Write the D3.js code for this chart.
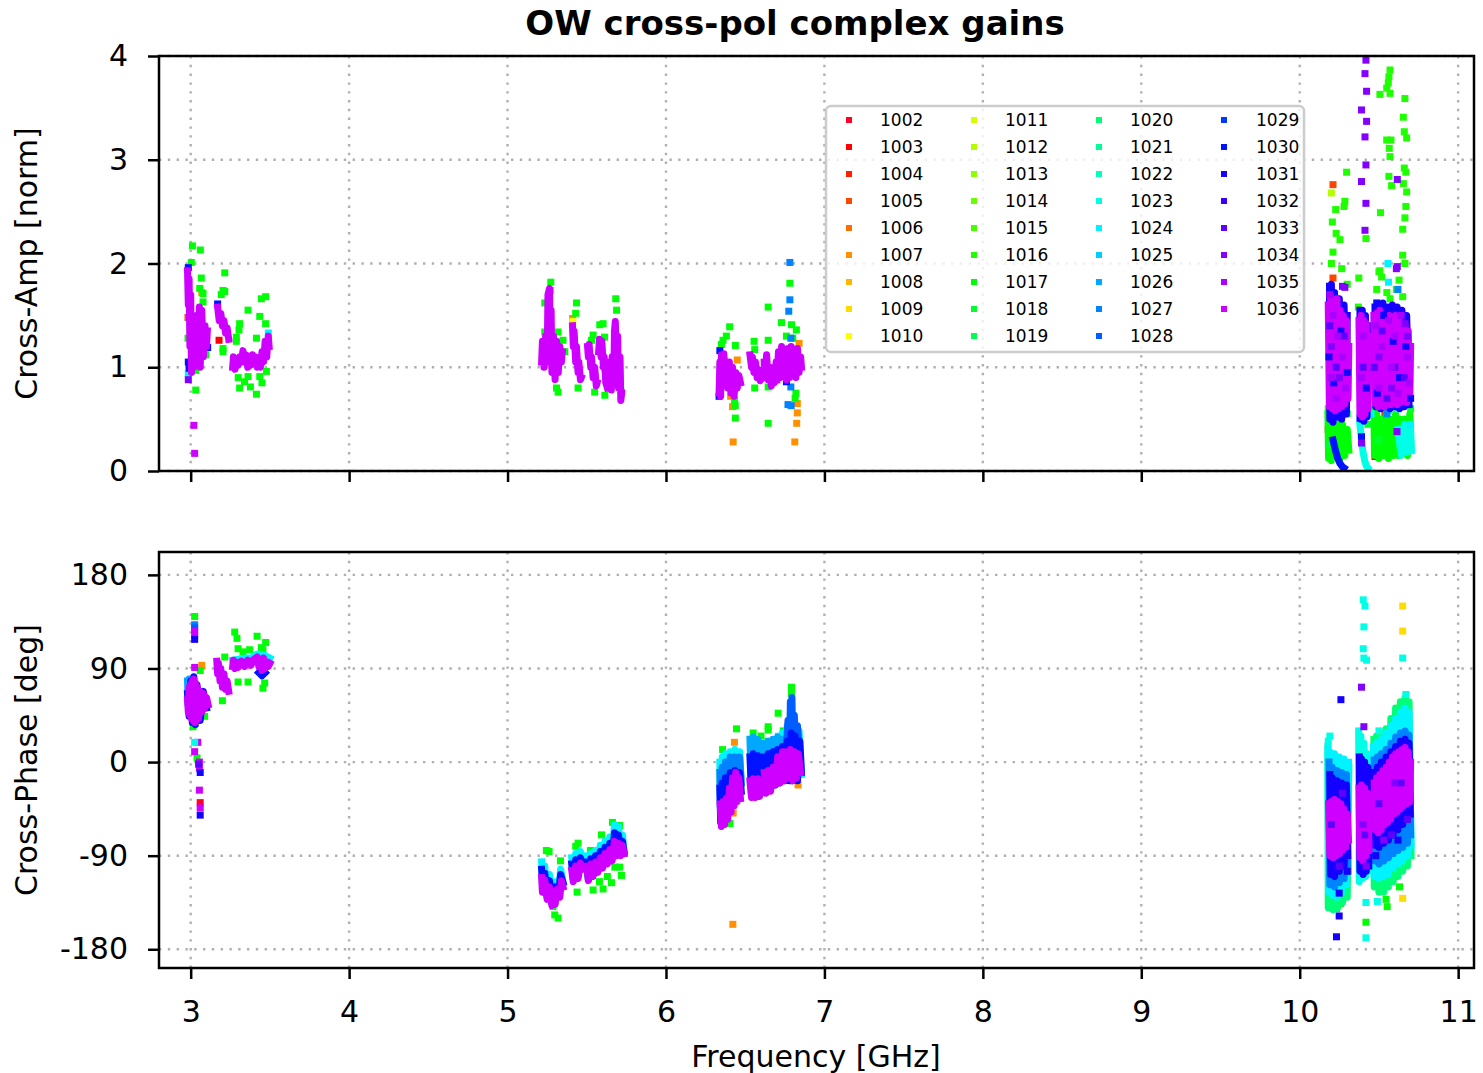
<!DOCTYPE html>
<html><head><meta charset="utf-8">
<script src="https://cdn.jsdelivr.net/npm/d3@7"></script>
<style>body{margin:0;background:#fff} svg{display:block} text{font-family:"DejaVu Sans",sans-serif}</style>
</head><body><svg id="c" width="1483" height="1073"></svg>
<script>
// ---------- categories / ticks ----------
const antennas = ["1002","1003","1004","1005","1006","1007","1008","1009","1010","1011","1012","1013","1014","1015","1016","1017","1018","1019","1020","1021","1022","1023","1024","1025","1026","1027","1028","1029","1030","1031","1032","1033","1034","1035","1036"];
const freqTicks = [3,4,5,6,7,8,9,10,11];
const freqTickLabels = ["3","4","5","6","7","8","9","10","11"];
const ampTicks = [0,1,2,3,4];
const ampTickLabels = ["0","1","2","3","4"];
const phaseTicks = [-180,-90,0,90,180];
const phaseTickLabels = ["-180","-90","0","90","180"];

// ---------- Cross-Amp: dense channel runs [freq GHz, amp] ----------
const ampRuns1036 = [
 [[2.98,1.93],[2.985,1.6],[2.99,1.85],[2.995,1.2],[3.0,1.7],[3.005,0.95],[3.01,1.5],[3.02,1.0],[3.025,1.3]],
 [[3.035,1.1],[3.04,1.5],[3.045,1.05],[3.055,1.58],[3.06,1.0],[3.07,1.55],[3.08,1.1],[3.09,1.4],[3.1,1.2],[3.105,1.35]],
 [[3.17,1.58],[3.18,1.45],[3.19,1.52],[3.2,1.4],[3.21,1.45],[3.22,1.33],[3.23,1.38],[3.24,1.27]],
 [[3.265,1.0],[3.27,1.1],[3.28,0.98],[3.29,1.08],[3.3,1.02],[3.31,1.1],[3.32,1.05],[3.33,1.16],[3.34,1.05],[3.35,1.12],[3.36,1.0],[3.37,1.08],[3.38,1.02],[3.39,1.12],[3.4,1.05],[3.41,1.1],[3.42,1.0],[3.43,1.06],[3.44,1.0],[3.45,1.15],[3.46,1.05],[3.47,1.25],[3.48,1.1],[3.49,1.3],[3.495,1.2]],
 [[5.215,1.05],[5.22,1.25],[5.23,1.0],[5.24,1.3],[5.25,1.05],[5.255,1.7],[5.265,1.76],[5.27,1.2],[5.275,1.55],[5.28,0.95],[5.29,1.3],[5.3,0.88],[5.31,1.25],[5.32,0.95],[5.33,1.2],[5.34,1.05],[5.345,1.15]],
 [[5.41,1.4],[5.415,1.2],[5.42,1.35],[5.43,1.05],[5.435,1.2],[5.445,0.95],[5.45,1.05],[5.46,0.88],[5.465,0.9]],
 [[5.505,1.2],[5.51,1.1],[5.515,1.22],[5.525,1.0],[5.53,1.1],[5.54,0.9],[5.55,1.0],[5.56,0.82],[5.565,0.85]],
 [[5.575,1.15],[5.58,1.27],[5.59,1.1],[5.595,1.25],[5.605,1.0],[5.61,1.1],[5.62,0.85],[5.63,0.8]],
 [[5.635,1.0],[5.64,0.8],[5.645,1.05],[5.655,0.78],[5.66,1.1],[5.67,0.85],[5.675,1.35],[5.68,1.44],[5.69,1.0],[5.695,1.3],[5.7,0.8],[5.71,1.1],[5.715,0.68],[5.72,0.75]],
 [[6.335,0.75],[6.34,1.05],[6.345,0.72],[6.35,1.12],[6.36,0.85],[6.365,1.13],[6.375,0.9],[6.38,1.05],[6.39,0.8],[6.4,1.05],[6.41,0.75],[6.42,1.0],[6.43,0.72],[6.44,0.95],[6.45,0.8],[6.46,0.92],[6.47,0.85]],
 [[6.53,1.12],[6.54,1.0],[6.545,1.1],[6.555,0.95],[6.565,1.05],[6.575,0.9],[6.585,0.98],[6.595,0.87],[6.605,0.9]],
 [[6.62,1.05],[6.625,0.9],[6.635,1.12],[6.645,0.88],[6.655,1.0],[6.665,0.82],[6.675,0.95],[6.685,0.85],[6.695,1.05],[6.705,0.9]],
 [[6.7,0.88],[6.71,1.15],[6.72,0.9],[6.73,1.2],[6.74,0.92],[6.75,1.15],[6.76,0.88],[6.77,1.18],[6.78,0.9],[6.79,1.2],[6.8,0.92],[6.81,1.15],[6.82,0.9],[6.83,1.18],[6.84,0.95],[6.85,1.1],[6.855,1.0]],
 [[10.18,1.6],[10.187,0.62],[10.195,1.68],[10.205,0.6],[10.215,1.62],[10.225,0.58],[10.235,1.66],[10.245,0.6],[10.255,1.55],[10.265,0.62],[10.275,1.5],[10.285,0.65],[10.295,1.45],[10.305,0.7],[10.31,1.2]],
 [[10.374,1.45],[10.38,0.55],[10.388,1.5],[10.396,0.52],[10.404,1.45],[10.412,0.55],[10.42,1.42],[10.43,0.6],[10.438,1.3]],
 [[10.468,1.5],[10.475,0.65],[10.485,1.52],[10.495,0.62],[10.505,1.55],[10.515,0.65],[10.525,1.5],[10.535,0.62],[10.545,1.48],[10.555,0.66],[10.565,1.5],[10.575,0.64],[10.585,1.45],[10.595,0.66],[10.605,1.5],[10.615,0.64],[10.625,1.45],[10.635,0.66],[10.645,1.42],[10.655,0.68],[10.665,1.4],[10.675,0.66],[10.685,1.35],[10.695,0.7],[10.7,1.2]]
];
const ampRuns1031 = [
 [[10.188,1.78],[10.19,0.5],[10.2,1.8],[10.21,0.47],[10.22,1.72],[10.235,0.52],[10.25,1.66],[10.265,0.5],[10.28,1.6],[10.295,0.55],[10.3,1.5]],
 [[10.38,1.55],[10.385,0.5],[10.395,1.55],[10.405,0.48],[10.415,1.5],[10.425,0.52],[10.43,1.4]],
 [[10.475,1.58],[10.48,0.62],[10.495,1.6],[10.51,0.6],[10.525,1.62],[10.54,0.62],[10.555,1.58],[10.57,0.6],[10.585,1.6],[10.6,0.62],[10.615,1.58],[10.63,0.6],[10.645,1.55],[10.66,0.62],[10.675,1.5],[10.69,0.64]]
];
const ampRuns1030 = [
 [[10.21,0.3],[10.225,0.2],[10.24,0.12],[10.255,0.07],[10.27,0.04],[10.28,0.03]]
];
const ampRuns1023 = [
 [[10.38,0.45],[10.39,0.3],[10.4,0.18],[10.41,0.1],[10.42,0.05],[10.43,0.03]],
 [[10.62,0.4],[10.64,0.15],[10.66,0.45],[10.68,0.18],[10.7,0.4],[10.705,0.2]]
];
const ampRuns1017 = [
 [[10.178,0.55],[10.182,0.12],[10.19,0.5],[10.2,0.1],[10.21,0.45],[10.225,0.15],[10.24,0.5],[10.255,0.12],[10.27,0.45],[10.285,0.15],[10.3,0.4],[10.31,0.2]],
 [[10.468,0.6],[10.472,0.15],[10.485,0.55],[10.5,0.12],[10.515,0.5],[10.53,0.15],[10.545,0.55],[10.56,0.12],[10.575,0.5],[10.59,0.15],[10.605,0.55],[10.62,0.15],[10.635,0.5],[10.65,0.18],[10.665,0.5],[10.68,0.15],[10.695,0.55],[10.702,0.2]]
];

// ---------- Cross-Amp: scattered channels [freq GHz, amp] ----------
const ampPts1017 = [[3.011,2.17],[3.061,2.13],[3.004,2.01],[3.067,1.86],[3.057,1.76],[3.078,1.71],[3.078,1.63],[3.215,1.91],[3.204,1.74],[3.215,1.73],[3.193,1.70],[3.362,1.55],[3.446,1.66],[3.473,1.68],[3.436,1.49],[3.473,1.42],[3.309,1.42],[3.305,1.36],[3.288,1.29],[3.288,1.25],[3.204,1.18],[3.204,1.15],[3.415,1.28],[3.309,0.80],[3.377,0.81],[3.415,0.74],[3.362,0.91],[3.436,0.91],[3.478,0.96],[3.032,0.78],[3.032,0.97],[3.095,1.12],[3.088,1.39],[2.983,1.28],[3.057,1.04],[3.3,0.9],[3.34,0.86],[3.45,0.85],
 [5.273,1.82],[5.27,1.74],[5.235,1.62],[5.435,1.62],[5.43,1.52],[5.235,1.34],[5.319,1.34],[5.683,1.66],[5.688,1.55],[5.603,1.42],[5.582,1.41],[5.54,1.31],[5.53,1.26],[5.612,1.29],[5.309,0.80],[5.319,0.76],[5.445,0.8],[5.55,0.76],[5.614,0.73],[5.635,0.81],[5.719,0.76],[5.24,1.18],[5.361,1.15],[5.35,1.26],
 [6.782,1.81],[6.645,1.58],[6.402,1.39],[6.381,1.30],[6.36,1.26],[6.35,1.22],[6.729,1.43],[6.792,1.41],[6.823,1.36],[6.645,1.26],[6.556,1.25],[6.56,1.17],[6.438,1.21],[6.433,0.68],[6.437,0.63],[6.438,0.51],[6.645,0.46],[6.56,0.80],[6.645,0.81],[6.82,0.75],[6.815,0.70],[6.76,1.3],[6.8,1.28]];
const ampPts1016 = [[10.57,3.865],[10.563,3.80],[10.559,3.74],[10.549,3.69],[10.57,3.64],[10.506,3.63],[10.664,3.59],[10.654,3.41],[10.66,3.27],[10.675,3.21],[10.549,3.19],[10.576,3.19],[10.565,3.11],[10.57,3.03],[10.66,2.92],[10.67,2.88],[10.563,2.84],[10.58,2.75],[10.654,2.77],[10.675,2.69],[10.296,2.88],[10.285,2.60],[10.28,2.55],[10.227,2.52],[10.206,2.40],[10.23,2.29],[10.254,2.23],[10.21,2.11],[10.2,2.0],[10.265,1.95],[10.418,2.24],[10.51,2.49],[10.67,2.55],[10.664,2.44],[10.65,2.33],[10.65,2.08],[10.664,2.0],[10.506,1.93],[10.517,1.87],[10.627,1.84],[10.486,1.75],[10.57,1.66],[10.65,1.68],[10.37,1.58],[10.373,1.86],[10.5,1.92],[10.3,1.8],[10.61,1.75],[10.55,1.72]];
const ampPts1018 = [[10.18,0.6],[10.2,0.58],[10.3,0.55],[10.39,0.5],[10.43,0.45],[10.48,0.62],[10.55,0.6],[10.6,0.65],[10.7,0.6],[10.19,0.25],[10.5,0.3],[10.66,0.28]];
const ampPts1036 = [[3.02,0.44],[3.025,0.17]];
const ampPts1035 = [[10.19,1.7],[10.21,1.5],[10.24,1.3],[10.27,1.1],[10.2,0.9],[10.29,0.8],[10.23,0.7],[10.4,1.3],[10.39,0.9],[10.48,1.4],[10.52,1.2],[10.56,1.45],[10.6,1.3],[10.64,1.5],[10.68,1.1],[10.5,0.8],[10.62,0.75],[10.58,1.0],[10.69,0.85]];
const ampPts1034 = [[2.985,0.88],[10.418,3.96],[10.412,3.83],[10.422,3.66],[10.39,3.48],[10.422,3.37],[10.412,3.22],[10.418,2.95],[10.39,2.79],[10.418,2.58],[10.412,2.32],[10.616,2.81],[10.616,1.97],[10.285,1.77],[10.27,1.78],[10.61,1.95],[10.39,0.27],[10.614,0.38],[10.665,1.42],[10.2,1.2],[10.25,0.9],[10.5,1.1],[10.58,0.8],[10.68,1.3]];
const ampPts1033 = [[10.19,1.4],[10.23,1.0],[10.28,1.3],[10.52,1.35],[10.6,1.0],[10.66,0.9],[10.4,1.0],[10.55,0.7],[10.47,1.0]];
const ampPts1031 = [[10.185,1.1],[10.215,0.85],[10.26,1.35],[10.3,0.95],[10.42,0.8],[10.49,0.75],[10.53,1.5],[10.59,1.25],[10.63,0.9],[10.67,1.2],[10.7,0.7]];
const ampPts1030 = [[2.985,1.96],[2.985,1.05],[2.99,0.99],[3.107,1.19],[3.17,1.61],[10.19,1.65],[10.22,1.26],[10.25,0.88],[10.24,0.62],[10.486,1.62],[10.55,1.54],[10.632,1.07],[10.652,0.85],[10.506,0.68],[10.39,0.33],[10.38,0.51],[10.41,1.1],[6.34,1.16],[6.76,0.86],[6.335,0.72]];
const ampPts1027 = [[6.782,2.01],[6.782,1.65],[6.775,1.54],[6.788,1.28],[6.788,0.81],[6.77,0.64],[6.79,0.63],[10.62,1.75],[10.55,0.55]];
const ampPts1024 = [[2.985,0.94],[3.49,1.33],[10.557,2.0],[10.56,1.82],[10.39,0.6],[10.45,0.55],[10.62,0.6],[10.7,0.45],[10.56,0.58]];
const ampPts1007 = [[6.424,0.28],[6.813,0.28],[6.825,0.46],[6.829,0.56],[6.829,0.65],[6.45,1.07],[6.408,0.72],[6.42,0.62],[6.84,1.23],[5.41,1.47],[3.07,1.72]];
const ampPts1010 = [[5.412,1.44]];
const ampPts1005 = [[10.21,2.76],[10.21,1.86],[2.983,1.48]];
const ampPts1003 = [[3.179,1.26],[10.475,0.14],[10.538,0.56],[10.18,0.4]];
const ampPts1012 = [[10.2,2.68]];

// ---------- Cross-Phase: dense channel runs [freq GHz, deg] ----------
const phRuns1036 = [
 [[2.98,60],[2.985,48],[2.99,72],[2.995,45],[3.0,75],[3.005,42],[3.01,78],[3.015,40],[3.02,80],[3.025,38],[3.03,76],[3.035,40],[3.04,72],[3.05,42],[3.06,68],[3.07,48],[3.08,66],[3.09,52],[3.1,62],[3.11,55]],
 [[3.165,97],[3.17,85],[3.175,95],[3.185,78],[3.19,90],[3.2,72],[3.21,85],[3.22,70],[3.23,78],[3.24,68]],
 [[3.265,92],[3.27,98],[3.28,90],[3.29,96],[3.3,91],[3.32,97],[3.34,92],[3.36,98],[3.38,93],[3.4,99],[3.42,101],[3.43,92],[3.44,97],[3.45,88],[3.46,100],[3.47,90],[3.48,96],[3.49,92],[3.5,95]],
 [[5.215,-111],[5.22,-125],[5.235,-113],[5.25,-132],[5.265,-120],[5.28,-138],[5.29,-125],[5.3,-137],[5.315,-122],[5.33,-130],[5.34,-114],[5.35,-120]],
 [[5.405,-104],[5.415,-115],[5.43,-100],[5.445,-112],[5.46,-97],[5.475,-103]],
 [[5.5,-100],[5.51,-114],[5.525,-98],[5.54,-110],[5.555,-96],[5.57,-106],[5.585,-92],[5.6,-102],[5.615,-88],[5.63,-98],[5.645,-84],[5.66,-95],[5.675,-76],[5.69,-90],[5.7,-78],[5.715,-90],[5.725,-80],[5.735,-88]],
 [[6.342,-40],[6.35,-62],[6.36,-38],[6.37,-60],[6.38,-35],[6.39,-55],[6.4,-25],[6.41,-48],[6.42,-15],[6.43,-42],[6.44,-10],[6.45,-38],[6.46,-15],[6.47,-35]],
 [[6.53,-18],[6.54,-34],[6.55,-16],[6.565,-34],[6.58,-16],[6.59,-33],[6.6,-20]],
 [[6.62,-10],[6.63,-30],[6.645,-8],[6.66,-28],[6.675,-5],[6.69,-22],[6.705,5],[6.72,-18],[6.735,10],[6.75,-15]],
 [[6.71,-5],[6.72,-20],[6.73,5],[6.745,-18],[6.755,10],[6.77,-15],[6.785,12],[6.8,-18],[6.81,10],[6.825,-15],[6.835,8],[6.85,-10]],
 [[10.182,-40],[10.19,-90],[10.2,-38],[10.21,-92],[10.22,-36],[10.23,-90],[10.24,-38],[10.25,-88],[10.26,-40],[10.27,-85],[10.28,-45],[10.29,-82],[10.3,-50],[10.308,-75]],
 [[10.374,-25],[10.38,-92],[10.39,-22],[10.4,-95],[10.41,-25],[10.42,-90],[10.43,-30],[10.438,-85]],
 [[10.47,-20],[10.475,-65],[10.485,-15],[10.495,-68],[10.505,-12],[10.515,-65],[10.525,-8],[10.535,-60],[10.545,-5],[10.555,-58],[10.565,0],[10.575,-55],[10.585,5],[10.595,-50],[10.605,8],[10.615,-48],[10.625,10],[10.635,-45],[10.645,12],[10.655,-42],[10.665,14],[10.675,-40],[10.685,10],[10.695,-38],[10.7,0]]
];
const phRuns1031 = [
 [[10.19,-12],[10.195,-108],[10.205,-15],[10.22,-110],[10.235,-18],[10.25,-105],[10.265,-20],[10.28,-100],[10.295,-22],[10.303,-90]],
 [[10.376,5],[10.38,-105],[10.39,3],[10.4,-108],[10.41,0],[10.42,-105],[10.43,-5],[10.436,-100]],
 [[10.472,-10],[10.475,-80],[10.49,-5],[10.5,-82],[10.515,0],[10.53,-78],[10.545,5],[10.56,-75],[10.575,10],[10.59,-70],[10.605,15],[10.62,-65],[10.635,20],[10.65,-60],[10.665,22],[10.68,-55],[10.69,18],[10.698,-50]]
];
const phRuns1030 = [
 [[2.98,66],[2.99,44],[3.0,78],[3.01,38],[3.02,82],[3.03,36],[3.04,74],[3.06,40],[3.08,68],[3.1,52]],
 [[3.43,86],[3.45,83],[3.47,86]],
 [[5.215,-103],[5.225,-125],[5.235,-107],[5.25,-130],[5.265,-114],[5.28,-136],[5.3,-120],[5.32,-128],[5.335,-108],[5.35,-116]],
 [[5.405,-98],[5.415,-113],[5.43,-94],[5.445,-110],[5.46,-92],[5.475,-100]],
 [[5.5,-96],[5.51,-113],[5.525,-93],[5.54,-109],[5.555,-90],[5.57,-104],[5.585,-86],[5.6,-100],[5.615,-82],[5.63,-96],[5.645,-78],[5.66,-92],[5.675,-68],[5.69,-88],[5.7,-70],[5.715,-88],[5.725,-76],[5.735,-86]],
 [[6.34,-25],[6.345,-58],[6.355,-20],[6.365,-52],[6.375,-15],[6.39,-45],[6.405,-10],[6.42,-38],[6.435,-8],[6.45,-32],[6.465,-10],[6.475,-28]],
 [[6.53,5],[6.54,-32],[6.55,8],[6.565,-32],[6.58,6],[6.59,-32],[6.6,0]],
 [[6.62,5],[6.63,-29],[6.645,8],[6.66,-26],[6.675,10],[6.69,-22],[6.705,12],[6.72,-17],[6.735,12],[6.75,-12]],
 [[6.71,10],[6.72,-20],[6.735,15],[6.75,-18],[6.765,20],[6.78,-18],[6.79,28],[6.8,-18],[6.815,25],[6.83,-18],[6.845,20],[6.855,-10]]
];
const phRuns1028 = [
 [[6.76,15],[6.77,40],[6.78,10],[6.785,58],[6.79,20],[6.795,62],[6.8,15],[6.81,45],[6.82,10],[6.83,35],[6.845,5]]
];
const phRuns1027 = [
 [[6.34,-10],[6.345,-55],[6.355,-5],[6.365,-50],[6.375,0],[6.39,-40],[6.405,5],[6.42,-30],[6.435,5],[6.45,-25],[6.465,5],[6.475,-20]],
 [[10.185,0],[10.19,-118],[10.205,-5],[10.22,-120],[10.235,-8],[10.25,-116],[10.265,-10],[10.28,-112],[10.295,-12],[10.305,-105]],
 [[10.47,2],[10.475,-95],[10.49,5],[10.5,-98],[10.515,8],[10.53,-95],[10.545,12],[10.56,-92],[10.575,18],[10.59,-88],[10.605,24],[10.62,-85],[10.635,28],[10.65,-82],[10.665,30],[10.68,-78],[10.69,26],[10.7,-70]]
];
const phRuns1026 = [
 [[2.98,78],[2.985,55],[2.99,80],[3.0,60]],
 [[6.53,22],[6.54,-30],[6.55,24],[6.565,-30],[6.58,22],[6.59,-30],[6.6,18]],
 [[6.62,18],[6.63,-28],[6.645,20],[6.66,-25],[6.675,22],[6.69,-20],[6.705,24],[6.72,-15],[6.735,22],[6.75,-10]]
];
const phRuns1024 = [
 [[3.265,98],[3.3,99],[3.34,100],[3.38,100],[3.42,104],[3.46,103],[3.5,100]],
 [[5.215,-96],[5.225,-125],[5.235,-100],[5.25,-128],[5.265,-108],[5.28,-135],[5.3,-115],[5.32,-128],[5.335,-103],[5.35,-115]],
 [[5.405,-92],[5.415,-112],[5.43,-88],[5.445,-108],[5.46,-86],[5.475,-100]],
 [[5.5,-90],[5.51,-112],[5.525,-88],[5.54,-108],[5.555,-85],[5.57,-103],[5.585,-80],[5.6,-98],[5.615,-76],[5.63,-95],[5.645,-72],[5.66,-90],[5.675,-60],[5.69,-85],[5.7,-62],[5.715,-88],[5.725,-70],[5.735,-85]],
 [[6.34,0],[6.345,-55],[6.355,5],[6.365,-50],[6.375,8],[6.39,-40],[6.405,10],[6.42,-30],[6.435,12],[6.45,-25],[6.465,10],[6.475,-20]],
 [[6.71,25],[6.72,-18],[6.735,28],[6.75,-15],[6.765,35],[6.78,-15],[6.79,45],[6.8,-15],[6.81,40],[6.825,-15],[6.84,30],[6.855,-12]],
 [[10.178,15],[10.182,-125],[10.19,10],[10.205,-128],[10.22,8],[10.235,-130],[10.25,5],[10.265,-125],[10.28,3],[10.295,-118],[10.308,0]],
 [[10.465,15],[10.47,-110],[10.485,18],[10.5,-112],[10.515,22],[10.53,-110],[10.545,28],[10.56,-108],[10.575,35],[10.59,-102],[10.605,42],[10.62,-98],[10.635,48],[10.65,-95],[10.665,52],[10.68,-90],[10.69,48],[10.703,-80]]
];
const phRuns1023 = [
 [[10.372,30],[10.376,-115],[10.386,25],[10.396,-112],[10.406,18],[10.416,-110],[10.426,8],[10.436,-105],[10.442,0]]
];
const phRuns1020 = [
 [[10.178,12],[10.18,-140],[10.195,8],[10.21,-142],[10.225,5],[10.24,-140],[10.255,3],[10.27,-135],[10.285,0],[10.3,-130],[10.31,-5]],
 [[10.468,22],[10.47,-120],[10.485,25],[10.5,-125],[10.515,28],[10.53,-125],[10.545,32],[10.56,-120],[10.575,42],[10.59,-115],[10.605,52],[10.62,-110],[10.635,58],[10.65,-105],[10.665,62],[10.68,-100],[10.69,58],[10.703,-90]]
];

// ---------- Cross-Phase: scattered channels [freq GHz, deg] ----------
const phPts1017 = [[3.025,140],[3.278,125],[3.292,119],[3.419,121],[3.473,115],[3.299,109],[3.33,106],[3.372,108],[3.446,110],[3.456,108],[3.299,77],[3.362,77],[3.456,71],[3.467,76],[3.2,59],[3.215,101],[3.204,84],[3.088,44],[3.015,34],[3.04,4],[3.06,88],
 [5.245,-85],[5.262,-86],[5.334,-95],[5.298,-147],[5.319,-150],[5.287,-139],[5.43,-81],[5.445,-78],[5.439,-125],[5.523,-85],[5.54,-123],[5.593,-70],[5.607,-82],[5.603,-122],[5.662,-58],[5.656,-116],[5.677,-101],[5.708,-101],[5.688,-62],[5.719,-109],[5.708,-61],[5.63,-110],[5.58,-115],
 [6.445,32],[6.708,47],[6.645,34],[6.645,31],[6.792,72],[6.792,66],[6.357,12],[6.404,-59],[6.55,28],[6.645,20],[6.74,30],[6.6,25],
 [10.232,-141],[10.257,-136],[10.418,-154],[10.552,-139],[10.545,-132],[10.2,-135],[10.63,-120]];
const phPts1036 = [[3.025,122],[3.025,126],[3.025,91],[3.045,19],[3.025,10],[3.055,0],[3.055,-6],[3.055,-27],[3.06,-44]];
const phPts1033 = [[3.05,-2],[10.2,-60],[10.27,-30],[10.25,-100],[10.41,-70],[10.5,-40],[10.58,-70],[10.64,-20],[10.68,-55]];
const phPts1031 = [[3.025,118],[3.06,-10],[3.06,-51],[10.26,60],[10.232,-168],[10.249,-148],[10.249,-126],[10.2,-20],[10.3,-105],[10.48,-90],[10.62,-75]];
const phPts1034 = [[10.39,72],[10.405,34],[10.4,-60],[10.6,-20],[10.42,-100],[10.53,-75]];
const phPts1027 = [[3.025,132]];
const phPts1028 = [[3.025,129]];
const phPts1023 = [[10.401,156],[10.412,150],[10.405,130],[10.401,109],[10.405,100],[10.422,98],[10.65,100],[10.418,-169],[10.418,-135],[10.49,-134],[3.025,19],[10.18,20],[10.19,25],[10.5,30],[10.67,65]];
const phPts1009 = [[10.65,150],[10.65,126],[10.65,-131]];
const phPts1007 = [[3.07,93],[6.422,-156],[6.432,19],[6.834,-22],[6.424,-49]];
const phPts1002 = [[3.06,-39]];

// ---------- layout ----------
const svg = d3.select("#c");
const x = d3.scaleLinear().domain([2.8, 11.1]).range([159, 1474]);
const yAmp = d3.scaleLinear().domain([0, 4]).range([471, 56]);
const yPh = d3.scaleLinear().domain([-198, 202]).range([968, 552]);

// gist_rainbow colormap
const gr = d3.scaleLinear()
  .domain([0, 0.03, 0.215, 0.4, 0.586, 0.77, 0.954, 1])
  .range(["#ff0029", "#ff0000", "#ffff00", "#00ff00", "#00ffff", "#0000ff", "#ff00ff", "#ff00bf"])
  .interpolate(d3.interpolateRgb);
const color = d3.scaleOrdinal().domain(antennas).range(antennas.map((a, i) => gr(i / 37)));

const ampLayers = [
 ["1003", [], ampPts1003], ["1005", [], ampPts1005], ["1007", [], ampPts1007], ["1010", [], ampPts1010], ["1012", [], ampPts1012],
 ["1016", [], ampPts1016], ["1017", ampRuns1017, ampPts1017], ["1018", [], ampPts1018], ["1023", ampRuns1023, []],
 ["1024", [], ampPts1024], ["1027", [], ampPts1027], ["1030", ampRuns1030, ampPts1030], ["1031", ampRuns1031, []],
 ["1036", ampRuns1036, ampPts1036], ["1031", [], ampPts1031], ["1033", [], ampPts1033], ["1034", [], ampPts1034], ["1035", [], ampPts1035]
];
const phLayers = [
 ["1002", [], phPts1002], ["1007", [], phPts1007], ["1009", [], phPts1009], ["1017", [], phPts1017], ["1020", phRuns1020, []],
 ["1023", phRuns1023, []], ["1024", phRuns1024, []], ["1026", phRuns1026, []], ["1027", phRuns1027, phPts1027],
 ["1028", phRuns1028, phPts1028], ["1030", phRuns1030, []], ["1031", phRuns1031, []],
 ["1036", phRuns1036, phPts1036], ["1023", [], phPts1023], ["1031", [], phPts1031], ["1033", [], phPts1033], ["1034", [], phPts1034]
];

const defs = svg.append("defs");
function panel(top, bottom, yScale, ticks, tickLabels, layers, showXLabels, clipId) {
  defs.append("clipPath").attr("id", clipId).append("rect")
    .attr("x", 159).attr("y", top).attr("width", 1474 - 159).attr("height", bottom - top);
  const g = svg.append("g");
  g.selectAll(null).data(freqTicks).join("line")
    .attr("x1", d => x(d)).attr("x2", d => x(d)).attr("y1", top).attr("y2", bottom)
    .attr("stroke", "#b0b0b0").attr("stroke-width", 2.4).attr("stroke-dasharray", "2.4,6.4");
  g.selectAll(null).data(ticks).join("line")
    .attr("x1", 159).attr("x2", 1474).attr("y1", d => yScale(d)).attr("y2", d => yScale(d))
    .attr("stroke", "#b0b0b0").attr("stroke-width", 2.4).attr("stroke-dasharray", "2.4,6.4");
  const dg = g.append("g").attr("clip-path", `url(#${clipId})`);
  const line = d3.line().x(d => x(d[0])).y(d => yScale(d[1]));
  layers.forEach(([ant, runs, pts]) => {
    const c = color(ant);
    dg.selectAll(null).data(runs).join("path")
      .attr("d", line).attr("fill", "none").attr("stroke", c).attr("stroke-width", 7)
      .attr("stroke-linejoin", "round").attr("stroke-linecap", "square");
    dg.selectAll(null).data(pts).join("rect")
      .attr("x", d => x(d[0]) - 3.5).attr("y", d => yScale(d[1]) - 3.5)
      .attr("width", 7).attr("height", 7).attr("fill", c);
  });
  const xa = g.append("g").attr("transform", `translate(0,${bottom})`)
    .call(d3.axisBottom(x).tickValues(freqTicks).tickSize(11).tickPadding(22)
      .tickFormat((d, i) => showXLabels ? freqTickLabels[i] : ""));
  const ya = g.append("g").attr("transform", "translate(159,0)")
    .call(d3.axisLeft(yScale).tickValues(ticks).tickSize(11).tickPadding(20).tickFormat((d, i) => tickLabels[i]));
  [xa, ya].forEach(a => {
    a.select(".domain").remove();
    a.selectAll(".tick line").attr("stroke", "#000").attr("stroke-width", 2.5);
    a.selectAll(".tick text").attr("font-size", 30).attr("fill", "#000").attr("font-family", "DejaVu Sans");
  });
  g.append("rect").attr("x", 159).attr("y", top).attr("width", 1474 - 159).attr("height", bottom - top)
    .attr("fill", "none").attr("stroke", "#000").attr("stroke-width", 2.5);
}

panel(56, 471, yAmp, ampTicks, ampTickLabels, ampLayers, false, "clipA");
panel(552, 968, yPh, phaseTicks, phaseTickLabels, phLayers, true, "clipP");

svg.append("text").attr("x", 795).attr("y", 35).attr("text-anchor", "middle")
  .attr("font-size", 34).attr("font-weight", "bold").text("OW cross-pol complex gains");
svg.append("text").attr("transform", "translate(37,263.5) rotate(-90)").attr("text-anchor", "middle")
  .attr("font-size", 30).text("Cross-Amp [norm]");
svg.append("text").attr("transform", "translate(37,760) rotate(-90)").attr("text-anchor", "middle")
  .attr("font-size", 30).text("Cross-Phase [deg]");
svg.append("text").attr("x", 816).attr("y", 1067).attr("text-anchor", "middle")
  .attr("font-size", 30).text("Frequency [GHz]");

// legend
const lg = svg.append("g");
lg.append("rect").attr("x", 826).attr("y", 106).attr("width", 478).attr("height", 246).attr("rx", 5)
  .attr("fill", "#fff").attr("fill-opacity", 0.8).attr("stroke", "#cccccc").attr("stroke-width", 2.5);
const colMarkX = [849, 974, 1099, 1224];
const colTextX = [880, 1005, 1130, 1256];
antennas.forEach((a, i) => {
  const col = Math.floor(i / 9), row = i % 9;
  const yy = 120 + row * 27;
  lg.append("rect").attr("x", colMarkX[col] - 3).attr("y", yy - 3).attr("width", 6).attr("height", 6).attr("fill", color(a));
  lg.append("text").attr("x", colTextX[col]).attr("y", yy).attr("dominant-baseline", "central")
    .attr("font-size", 17).text(a);
});
</script></body></html>
